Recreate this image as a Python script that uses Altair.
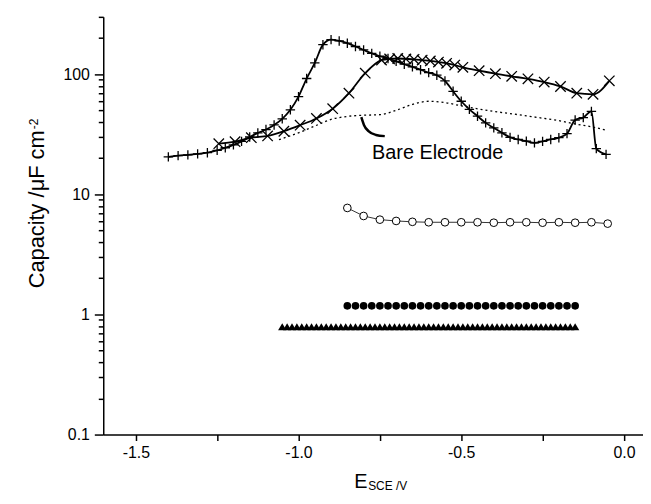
import altair as alt
import pandas as pd

# ---- data ----
plus_x = [-1.4, -1.37, -1.34, -1.31, -1.28, -1.25, -1.225, -1.2, -1.175, -1.15, -1.125, -1.1,
          -1.075, -1.05, -1.025, -1.0, -0.975, -0.95, -0.925, -0.9, -0.875, -0.85, -0.825, -0.8,
          -0.775, -0.75, -0.725, -0.7, -0.675, -0.65, -0.625, -0.6, -0.575, -0.55, -0.525, -0.5,
          -0.475, -0.45, -0.425, -0.4, -0.375, -0.35, -0.325, -0.3, -0.275, -0.25, -0.225, -0.2,
          -0.175, -0.15, -0.125, -0.1, -0.085, -0.055]
plus_y = [20.5, 21.0, 21.3, 21.7, 22.2, 23.2, 24.4, 25.8, 27.6, 30.0, 32.4, 34.6,
          37.8, 42.5, 50.5, 65.0, 92.0, 124.0, 176.0, 194.0, 189.0, 181.0, 170.0, 159.0,
          149.0, 141.0, 135.0, 128.0, 121.0, 115.0, 109.0, 103.0, 98.0, 88.0, 72.0, 59.5,
          51.0, 44.7, 39.3, 35.7, 32.5, 29.8, 28.6, 27.7, 26.8, 27.6, 28.6, 29.6,
          32.0, 41.5, 43.5, 49.0, 24.0, 21.5]

cross_x = [-1.245, -1.195, -1.145, -1.095, -1.045, -0.995, -0.945, -0.895, -0.845, -0.795,
           -0.745, -0.72, -0.695, -0.67, -0.645, -0.62, -0.595, -0.57, -0.545, -0.52,
           -0.495, -0.445, -0.395, -0.345, -0.295, -0.245, -0.195, -0.145, -0.095, -0.045]
cross_y = [26.4, 27.4, 29.6, 30.6, 33.5, 37.6, 42.8, 51.6, 69.5, 102.0,
           131.0, 134.0, 135.0, 134.0, 133.0, 131.0, 129.0, 126.0, 123.0, 119.0,
           114.0, 107.0, 101.0, 96.0, 91.5, 86.0, 79.0, 69.5, 68.0, 88.0]

bare_x = [-1.06, -1.0, -0.95, -0.9, -0.85, -0.8, -0.75, -0.7, -0.65, -0.6, -0.55,
          -0.5, -0.45, -0.4, -0.35, -0.3, -0.25, -0.2, -0.15, -0.1, -0.05]
bare_y = [28.5, 32.5, 37.0, 42.0, 44.5, 45.5, 46.0, 50.0, 56.0, 59.5, 58.0,
          54.5, 51.5, 49.0, 47.0, 45.0, 43.0, 41.0, 38.5, 36.5, 34.0]

open_x = [-0.85, -0.8, -0.75, -0.7, -0.65, -0.6, -0.55, -0.5, -0.45, -0.4, -0.35,
          -0.3, -0.25, -0.2, -0.15, -0.1, -0.05]
open_y = [7.7, 6.6, 6.15, 6.0, 5.9, 5.85, 5.85, 5.85, 5.85, 5.8, 5.85,
          5.85, 5.8, 5.85, 5.8, 5.85, 5.7]

filled_x = [-0.85, -0.825, -0.8, -0.775, -0.75, -0.725, -0.7, -0.675, -0.65, -0.625,
            -0.6, -0.575, -0.55, -0.525, -0.5, -0.475, -0.45, -0.425, -0.4, -0.375,
            -0.35, -0.325, -0.3, -0.275, -0.25, -0.225, -0.2, -0.175, -0.15]
filled_y = [1.18, 1.18, 1.18, 1.18, 1.18, 1.18, 1.18, 1.18, 1.18, 1.18,
            1.18, 1.18, 1.18, 1.18, 1.18, 1.18, 1.18, 1.18, 1.18, 1.18,
            1.18, 1.18, 1.18, 1.18, 1.18, 1.18, 1.18, 1.18, 1.18]

tri_x = [-1.05, -1.035, -1.02, -1.005, -0.99, -0.975, -0.96, -0.945, -0.93, -0.915,
         -0.9, -0.885, -0.87, -0.855, -0.84, -0.825, -0.81, -0.795, -0.78, -0.765,
         -0.75, -0.735, -0.72, -0.705, -0.69, -0.675, -0.66, -0.645, -0.63, -0.615,
         -0.6, -0.585, -0.57, -0.555, -0.54, -0.525, -0.51, -0.495, -0.48, -0.465,
         -0.45, -0.435, -0.42, -0.405, -0.39, -0.375, -0.36, -0.345, -0.33, -0.315,
         -0.3, -0.285, -0.27, -0.255, -0.24, -0.225, -0.21, -0.195, -0.18, -0.165, -0.15]
tri_y = [0.79, 0.79, 0.79, 0.79, 0.79, 0.79, 0.79, 0.79, 0.79, 0.79,
         0.79, 0.79, 0.79, 0.79, 0.79, 0.79, 0.79, 0.79, 0.79, 0.79,
         0.79, 0.79, 0.79, 0.79, 0.79, 0.79, 0.79, 0.79, 0.79, 0.79,
         0.79, 0.79, 0.79, 0.79, 0.79, 0.79, 0.79, 0.79, 0.79, 0.79,
         0.79, 0.79, 0.79, 0.79, 0.79, 0.79, 0.79, 0.79, 0.79, 0.79,
         0.79, 0.79, 0.79, 0.79, 0.79, 0.79, 0.79, 0.79, 0.79, 0.79, 0.79]

arrow_x = [-0.807, -0.799, -0.785, -0.762, -0.735]
arrow_y = [43.8, 37.8, 33.6, 31.2, 30.5]

annot_x = [-0.774]
annot_y = [19.7]
annot_text = ["Bare Electrode"]

x_tick_values = [-1.5, -1.25, -1.0, -0.75, -0.5, -0.25, 0.0]
y_tick_values = [0.1, 0.2, 0.3, 0.4, 0.5, 0.6, 0.7, 0.8, 0.9,
                 1, 2, 3, 4, 5, 6, 7, 8, 9,
                 10, 20, 30, 40, 50, 60, 70, 80, 90,
                 100, 200, 300]

y_title_main = "Capacity /\u03bcF cm"
y_title_sup = "-2"
x_title_main = "E"
x_title_sub = "SCE /V"

FONT = "Liberation Sans"

# ---- scales / axes ----
xscale = alt.Scale(domain=[-1.6, 0.0585], nice=False, zero=False)
yscale = alt.Scale(type="log", domain=[0.1, 300], nice=False)

major_test = "abs(log(datum.value)/LN10 - round(log(datum.value)/LN10)) < 0.01"

xaxis = alt.Axis(
    values=x_tick_values, title=None, grid=False,
    labelExpr="abs(datum.value*2 - round(datum.value*2)) < 0.001 ? replace(format(datum.value, '.1f'), '\u2212', '-') : ''",
    tickSize=6, tickWidth=1.5, tickColor="black", domainColor="black", domainWidth=1.5,
    labelFont=FONT, labelFontSize=16, labelColor="black", labelPadding=4, labelFlush=False,
    labelOverlap=False,
)
yaxis = alt.Axis(
    values=y_tick_values, title=None, grid=False,
    labelExpr=major_test + " ? (datum.value < 0.5 ? '0.1' : format(datum.value, 'd')) : ''",
    tickSize={"condition": {"test": major_test, "value": 9}, "value": 5},
    tickWidth=1.5, tickColor="black", domainColor="black", domainWidth=1.5,
    labelFont=FONT, labelFontSize=16, labelColor="black", labelPadding=5, labelFlush=False,
    labelOverlap=False,
)

X = alt.X("E:Q", scale=xscale, axis=xaxis)
Y = alt.Y("C:Q", scale=yscale, axis=yaxis)


def frame(xs, ys):
    return pd.DataFrame({"E": xs, "C": ys, "i": list(range(len(xs)))})


PLUS = "M-1,0L1,0M0,-1L0,1"
CROSS = "M-1,-1L1,1M-1,1L1,-1"

layers = []

# + series
d = frame(plus_x, plus_y)
layers.append(alt.Chart(d).mark_line(color="black", strokeWidth=1.8, interpolate="monotone")
              .encode(x=X, y=Y, order="i:Q"))
layers.append(alt.Chart(d).mark_point(shape=PLUS, size=90, filled=False, stroke="black",
                                      strokeWidth=1.3, opacity=1).encode(x=X, y=Y))

# x series
d = frame(cross_x, cross_y)
layers.append(alt.Chart(d).mark_line(color="black", strokeWidth=1.8, interpolate="monotone")
              .encode(x=X, y=Y, order="i:Q"))
layers.append(alt.Chart(d).mark_point(shape=CROSS, size=110, filled=False, stroke="black",
                                      strokeWidth=1.3, opacity=1).encode(x=X, y=Y))

# bare electrode (dotted)
d = frame(bare_x, bare_y)
layers.append(alt.Chart(d).mark_line(color="black", strokeWidth=1.3, strokeDash=[2, 3],
                                     interpolate="monotone").encode(x=X, y=Y, order="i:Q"))

# open circles
d = frame(open_x, open_y)
layers.append(alt.Chart(d).mark_line(color="#333333", strokeWidth=1).encode(x=X, y=Y, order="i:Q"))
layers.append(alt.Chart(d).mark_point(shape="circle", size=60, filled=True, fill="white",
                                      stroke="black", strokeWidth=1, opacity=1).encode(x=X, y=Y))

# filled circles
d = frame(filled_x, filled_y)
layers.append(alt.Chart(d).mark_point(shape="circle", size=60, filled=True, color="black",
                                      opacity=1).encode(x=X, y=Y))

# filled triangles
d = frame(tri_x, tri_y)
layers.append(alt.Chart(d).mark_point(shape="triangle-up", size=70, filled=True, color="black",
                                      opacity=1).encode(x=X, y=Y))

# annotation arrow + text
d = frame(arrow_x, arrow_y)
layers.append(alt.Chart(d).mark_line(color="black", strokeWidth=2.5, interpolate="monotone")
              .encode(x=X, y=Y, order="i:Q"))
d = pd.DataFrame({"E": annot_x, "C": annot_y, "t": annot_text})
layers.append(alt.Chart(d).mark_text(font=FONT, fontSize=20, align="left", baseline="alphabetic",
                                     color="black").encode(x=X, y=Y, text="t:N"))

# axis titles as text (sub/superscripts)
t = pd.DataFrame({"t": [y_title_main]})
layers.append(alt.Chart(t).mark_text(font=FONT, fontSize=22, angle=270, align="center",
                                     baseline="alphabetic", color="black")
              .encode(x=alt.value(-60), y=alt.value(194), text="t:N"))
t = pd.DataFrame({"t": [y_title_sup]})
layers.append(alt.Chart(t).mark_text(font=FONT, fontSize=12, angle=270, align="center",
                                     baseline="alphabetic", color="black")
              .encode(x=alt.value(-66), y=alt.value(108), text="t:N"))
t = pd.DataFrame({"t": [x_title_main]})
layers.append(alt.Chart(t).mark_text(font=FONT, fontSize=20, align="left",
                                     baseline="alphabetic", color="black")
              .encode(x=alt.value(253), y=alt.value(475), text="t:N"))
t = pd.DataFrame({"t": [x_title_sub]})
layers.append(alt.Chart(t).mark_text(font=FONT, fontSize=12, align="left",
                                     baseline="alphabetic", color="black")
              .encode(x=alt.value(267), y=alt.value(477), text="t:N"))

chart = alt.layer(*layers).properties(
    width=544, height=421,
    padding={"left": 96, "top": 7, "right": 0, "bottom": 60},
    autosize="none",
    background="white",
).configure_view(stroke=None)

chart.save("out.html", embed_options={"renderer": "svg", "actions": False})
